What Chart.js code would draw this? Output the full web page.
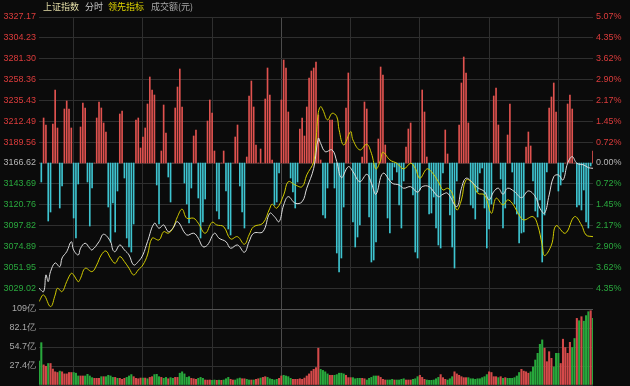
<!DOCTYPE html>
<html>
<head>
<meta charset="utf-8">
<script src="https://cdn.jsdelivr.net/npm/chart.js@4/dist/chart.umd.min.js"></script>
<style>
  body { margin: 0; background: #0b0b0b; }
  #wrap { position: relative; width: 630px; height: 386px; overflow: hidden; background: #0b0b0b; }
  canvas { position: absolute; left: 0; }
  #price { top: 0; }
  #vol { top: 300px; }
  .hd { position: absolute; top: 0; font-size: 9px; line-height: 13px; white-space: nowrap;
        font-family: "Noto Sans CJK SC", sans-serif; }
</style>
</head>
<body>
<div id="wrap">
  <canvas id="price" width="630" height="320"></canvas>
  <canvas id="vol" width="630" height="96"></canvas>
  <span class="hd" style="left:43px;color:#e2dca6">上证指数</span>
  <span class="hd" style="left:85px;color:#c8c8c8">分时</span>
  <span class="hd" style="left:108px;color:#e0d600">领先指标</span>
  <span class="hd" style="left:151px;color:#a8a8a8">成交额(元)</span>
</div>
<script>
// minute index 0..240 (9:30 - 15:00)
const prevClose = 3166.62;
const priceTicks = [3327.17, 3304.23, 3281.30, 3258.36, 3235.43, 3212.49, 3189.56,
  3166.62, 3143.69, 3120.76, 3097.82, 3074.89, 3051.95, 3029.02];
const priceMin = 3006.08, priceMax = 3327.17;
const timeTicks = [0, 30, 60, 90, 120, 150, 180, 210, 240];

// 上证指数 (white)
const indexMin = [0,2,3,4,5,7,9,10,12,14,15,17,18,20,22,23,26,28,31,32,33,35,37,39,41,43,45,47,50,52,
  54,56,58,60,64,67,69,71,73,76,78,81,83,86,89,91,93,97,100,102,104,106,108,111,114,116,119,121,122,124,
  127,129,131,134,136,139,142,144,146,149,153,156,158,161,164,166,169,173,175,177,181,183,185,188,190,
  193,195,197,199,201,203,206,209,212,215,217,219,221,223,225,227,229,231,233,236,238,240];
const indexVal = [3028.9,3025.2,3043.5,3036.2,3047.2,3056.7,3052.6,3062.2,3069.1,3080.1,3071.0,3065.5,
  3072.9,3078.4,3072.9,3071.0,3080.1,3088.3,3080.1,3071.0,3069.1,3076.5,3071.0,3065.5,3054.5,3058.2,
  3065.5,3080.1,3100.4,3094.9,3098.5,3091.1,3094.9,3102.1,3087.5,3089.4,3083.9,3074.6,3076.5,3089.4,
  3083.9,3080.1,3072.9,3076.5,3068.5,3080.1,3089.4,3091.1,3111.4,3107.6,3102.1,3120.5,3129.6,3122.4,
  3124.1,3138.9,3160.8,3193.8,3188.3,3179.1,3181.0,3168.1,3150.5,3162.6,3157.1,3146.1,3154.2,3144.4,
  3132.3,3155.3,3144.4,3142.5,3138.9,3140.6,3134.5,3140.6,3140.6,3129.6,3132.3,3133.4,3118.6,3138.9,
  3149.9,3144.4,3139.5,3135.1,3126.0,3135.1,3138.9,3132.3,3138.9,3135.1,3128.5,3135.9,3129.6,3116.9,
  3111.4,3131.5,3151.6,3153.5,3148.0,3166.3,3173.6,3166.3,3164.5,3161.5,3160.8];

// 领先指标 (yellow)
const leadMin = [0,2,5,7,8,10,12,14,15,17,18,20,23,25,27,29,31,33,35,37,39,41,43,45,47,49,52,54,56,58,
  60,62,64,67,69,72,75,77,80,83,86,89,91,93,97,100,101,103,106,108,111,114,116,119,120,121,122,123,125,
  127,129,130,132,135,136,139,142,144,146,148,149,152,155,158,161,163,165,168,170,173,175,177,179,181,
  183,185,188,190,193,196,198,201,203,205,208,210,214,216,218,219,222,224,228,232,235,237,240];
const leadVal = [3014.2,3021.5,3008.7,3021.5,3028.9,3025.2,3036.2,3045.4,3043.5,3036.2,3039.9,3050.9,
  3047.2,3054.5,3065.5,3069.9,3061.9,3056.4,3063.7,3058.2,3050.9,3043.5,3049.0,3054.5,3065.5,3083.9,
  3082.0,3091.1,3089.4,3094.9,3107.6,3115.8,3105.9,3105.9,3100.4,3089.4,3101.5,3098.5,3096.6,3083.1,
  3085.6,3077.3,3087.5,3096.6,3100.4,3116.9,3121.3,3116.9,3131.5,3146.1,3142.5,3140.6,3153.5,3168.1,
  3192.0,3222.0,3228.6,3224.9,3214.0,3221.3,3217.6,3203.0,3186.5,3201.1,3192.0,3181.0,3187.2,3177.3,
  3160.1,3170.0,3178.4,3170.0,3166.3,3160.1,3166.3,3160.8,3149.9,3160.1,3157.1,3146.1,3137.0,3138.9,
  3133.4,3115.0,3126.0,3148.0,3144.4,3133.4,3131.5,3111.4,3127.9,3120.5,3126.0,3122.4,3109.5,3104.0,
  3107.6,3098.5,3076.5,3064.8,3076.5,3097.7,3089.4,3107.6,3098.5,3087.5,3085.6];

// red / cyan strength bars, one per minute
const flow = [
  0,-19,45,38,-58,-49,39,73,35,-45,  -23,54,62,54,35,-55,-75,-21,36,60,
  55,-19,-63,-25,0,45,61,55,40,31,  -44,-79,-40,-69,-28,49,52,-15,-75,-84,
  -89,-61,43,45,15,26,35,59,86,73,  68,-22,-61,12,58,30,-14,-39,0,55,
  76,94,56,-20,-41,-60,-25,27,33,-35,  -75,-59,-36,42,63,50,12,-48,-56,0,
  12,-28,-66,-72,0,26,38,-23,-49,-65,  6,67,82,56,18,0,14,0,64,95,
  68,3,-42,-39,-10,63,103,95,51,-15,  -29,-45,-19,34,45,27,56,85,92,95,
  101,48,3,-52,-55,-25,43,43,-25,-90,  -109,-95,-44,55,90,0,-59,-84,-74,-62,
  6,61,54,-54,-99,-97,-79,24,96,88,  18,-55,-70,-17,-4,-9,-42,-65,-18,16,
  34,40,-32,-89,-95,-27,73,51,6,-51,  -50,-34,-65,-82,-85,-10,33,9,-52,-84,
  -105,-18,38,80,106,90,40,-42,-45,-56,  -29,-10,-5,-45,-85,-66,-41,67,75,38,
  -16,-65,-45,28,59,-9,-41,-51,-80,-70,  -69,16,31,17,-18,-48,-54,-37,-99,-52,
  -9,55,66,80,51,-28,-22,-9,0,59,  68,54,0,-44,-42,-47,-27,-59,-65,-3,
  12];
const flowMax = 146;

// 成交额 (亿), one per minute
const volume = [
  34.6,61,29,27,31,31,23,19,18,20,  19,16,16,18,18,18,17,13,13,13,
  13,15.4,13,10.6,9.6,9.6,9.6,12,12,12,  14,13,11,11,9.6,9.6,8.2,9.6,11,13,
  15,12,9.6,9,10,10,10,9,11,12,  15,15.4,12,11,9.6,11,9,10.6,9.6,11,
  11,17,19,16,11,12,9.6,9,8.2,9.6,  11,9.6,7.2,7,7.2,6.7,7.2,6.7,7,6.7,
  7.2,9,11,8.2,7.2,7.2,9,10,9,9,  8.2,7.2,7.2,7.2,8.2,9,10,11,12,11,
  9,8.2,7.2,8.2,9.6,13,14,13,12,9.6,  8.2,8.2,8.2,9,8.2,10,13,16,20,22.6,
  25,53,22.6,21,19,16,14,14,14,15,  17,17,16,14,10.6,10.6,10.6,9,9.6,9.6,
  9.6,9,7.2,9.6,11,13,13,13,11,8.2,  7.2,7.2,7.2,8.2,7.2,7.2,7.2,8.2,9,7.2,
  7.2,7.2,8.2,9,12,14,11,8.2,7.2,6.7,  6.7,7.2,9,11,15,10.6,8.2,7.2,9,12,
  19,16,14,12,10.6,10.6,10.6,9,9,8.2,  9,9,10.6,12,15,19,18,12,12,10.6,
  12,9.6,10.6,9.6,9.6,9.6,10.6,13,18,22.6,  20,19,17,19,26,36,45.6,58.6,65,53,
  33.6,48,38.4,26,45.6,45.6,31,66,54,45.6,  61.5,54,67,96,92.6,98.4,92,100,105.6,107,
  96];
// r = up minute, g = down minute
const volDir = [
  "ggrrgrrrrg","rrrrrgggrr","ggggrrrgrg","gggrgrrrgg","grrrrgrgrr","gggrggrggr",
  "rgggggrrrg","ggrrrggrgr","gggrrgggrr","ggrgrrgrrg","ggggrrgggg","rrrrrrrrrr",
  "rrggggrrgg","gggrrrgggg","rrgggggrrr","rgggrggggr","rrgggrrrgg","ggggrrrggg",
  "rrrrrrgggg","gggggrrrrg","rgrggggggr","rrrggggggr","rrrgggrrrr","rggrgrgggr",
  "g"].join("");
const volTicks = [0, 27.375, 54.75, 82.125, 109.5];
const volLabels = ["", "27.4亿", "54.7亿", "82.1亿", "109亿"];

const RED = "#dc3c3c", GREEN = "#2aa83e", GREY = "#b4b4b4";

Chart.defaults.font.family = 'Arial, "Liberation Sans", sans-serif';
Chart.defaults.font.size = 9;

const timeAxis = {
  type: "linear", min: 0, max: 240, offset: false,
  afterBuildTicks: (s) => { s.ticks = timeTicks.map((v) => ({ value: v })); },
  ticks: { display: false },
  grid: { color: (c) => (c.tick && c.tick.value === 120 ? "#4c4c4c" : "#2f2f2f"), drawTicks: false },
  border: { display: false },
};

const common = {
  responsive: false,
  devicePixelRatio: 1,
  animation: false,
  events: [],
  plugins: { legend: { display: false }, tooltip: { enabled: false } },
};

new Chart(document.getElementById("price"), {
  type: "bar",
  data: {
    datasets: [
      {
        type: "line",
        data: indexMin.map((m, i) => ({ x: m, y: indexVal[i] })),
        borderColor: "#dedede",
        borderWidth: 1,
        pointRadius: 0,
        tension: 0.4,
        yAxisID: "y",
        order: 0,
      },
      {
        type: "line",
        data: leadMin.map((m, i) => ({ x: m, y: leadVal[i] })),
        borderColor: "#d2cc00",
        borderWidth: 1,
        pointRadius: 0,
        tension: 0.4,
        yAxisID: "y",
        order: 1,
      },
      {
        data: flow.map((v, i) => ({ x: i, y: v })),
        backgroundColor: flow.map((v) => (v >= 0 ? "#e0524f" : "#3ec4d0")),
        barThickness: 1,
        yAxisID: "yb",
        order: 2,
      },
    ],
  },
  options: {
    ...common,
    layout: { padding: { top: 17, bottom: 11, left: 0, right: 0 } },
    scales: {
      x: timeAxis,
      y: {
        position: "left",
        min: priceMin,
        max: priceMax,
        afterBuildTicks: (s) => { s.ticks = priceTicks.map((v) => ({ value: v })); },
        afterFit: (s) => { s.width = 39; },
        ticks: {
          padding: 3,
          callback: (v) => v.toFixed(2),
          color: (c) => {
            const v = c.tick.value;
            if (Math.abs(v - prevClose) < 0.01) return GREY;
            return v > prevClose ? RED : GREEN;
          },
        },
        grid: { color: "#2f2f2f", drawTicks: false },
        border: { display: false },
      },
      yr: {
        position: "right",
        min: priceMin,
        max: priceMax,
        afterBuildTicks: (s) => { s.ticks = priceTicks.map((v) => ({ value: v })); },
        afterFit: (s) => { s.width = 37; },
        ticks: {
          padding: 3,
          callback: (v) => (Math.abs((v - prevClose) / prevClose) * 100).toFixed(2) + "%",
          color: (c) => {
            const v = c.tick.value;
            if (Math.abs(v - prevClose) < 0.01) return GREY;
            return v > prevClose ? RED : GREEN;
          },
        },
        grid: { display: false, drawTicks: false },
        border: { display: false },
      },
      yb: { display: false, min: -flowMax, max: flowMax },
    },
  },
});

new Chart(document.getElementById("vol"), {
  type: "bar",
  data: {
    datasets: [
      {
        data: volume.map((v, i) => ({ x: i, y: v })),
        backgroundColor: volume.map((v, i) => (volDir[i] === "r" ? "#d44a4a" : "#28a83c")),
        barThickness: 1.4,
      },
    ],
  },
  options: {
    ...common,
    layout: { padding: { top: 9, bottom: 11, left: 0, right: 37 } },
    scales: {
      x: timeAxis,
      y: {
        position: "left",
        min: 0,
        max: 109.5,
        afterBuildTicks: (s) => { s.ticks = volTicks.map((v) => ({ value: v })); },
        afterFit: (s) => { s.width = 39; },
        ticks: {
          padding: 3,
          color: "#a8a8a8",
          callback: (v, i) => volLabels[i],
        },
        grid: {
          color: (c) => (c.tick && c.tick.value === 109.5 ? "#555555" : "#2f2f2f"),
          drawTicks: false,
        },
        border: { display: false },
      },
    },
  },
});
</script>
</body>
